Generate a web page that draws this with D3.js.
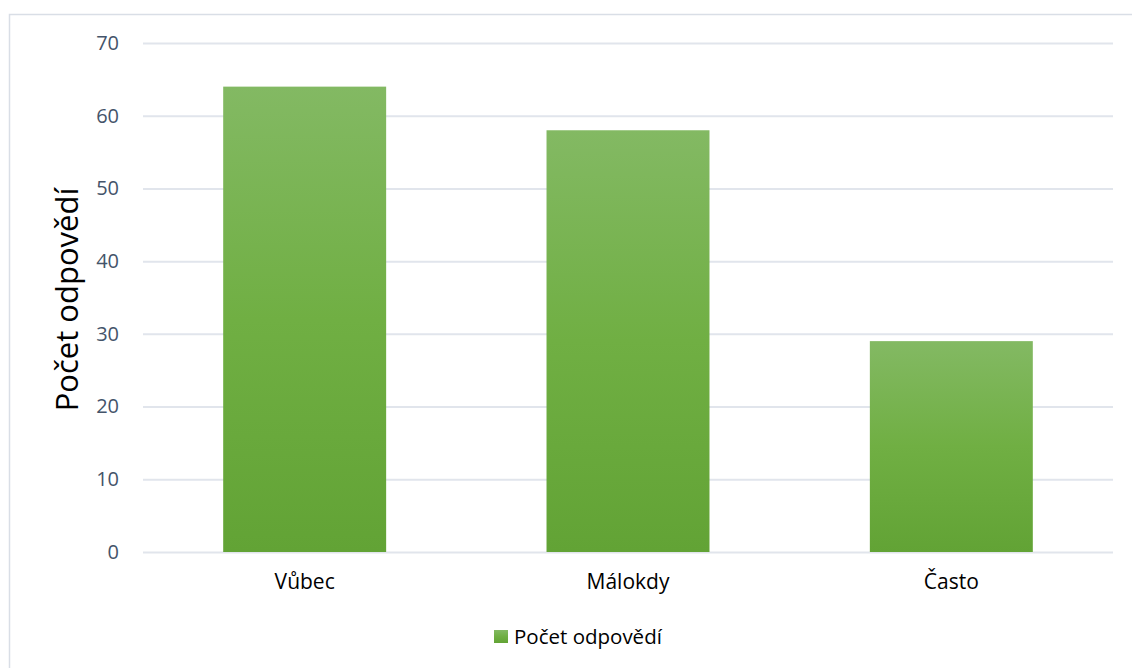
<!DOCTYPE html>
<html><head><meta charset="utf-8">
<script src="https://cdn.jsdelivr.net/npm/d3@7"></script>
<style>
html,body{margin:0;padding:0;background:#fff;}
svg{display:block;}
</style>
</head><body>
<svg id="chart" width="1132" height="668"></svg>
<script>
const categories = ["Vůbec", "Málokdy", "Často"];
const values = [64, 58, 29];
const seriesName = "Počet odpovědí";
const yTicks = [0, 10, 20, 30, 40, 50, 60, 70];
const yTitle = "Počet odpovědí";

const svg = d3.select("#chart");
const plot = {left: 143, right: 1113, top: 43, bottom: 552};

// outer border
svg.append("rect").attr("x", 9.5).attr("y", 14.5).attr("width", 1140).attr("height", 700)
  .attr("fill", "none").attr("stroke", "#D9DEE6").attr("stroke-width", 1.5);

const defs = svg.append("defs");
const grad = defs.append("linearGradient").attr("id", "barGrad")
  .attr("x1", 0).attr("y1", 0).attr("x2", 0).attr("y2", 1);
grad.append("stop").attr("offset", "0%").attr("stop-color", "#83B963");
grad.append("stop").attr("offset", "50%").attr("stop-color", "#70AF43");
grad.append("stop").attr("offset", "100%").attr("stop-color", "#62A335");

const x = d3.scaleBand().domain(categories).range([plot.left, plot.right])
  .paddingInner(0.496).paddingOuter(0.248);
const y = d3.scaleLinear().domain([0, 70]).range([plot.bottom, plot.top]);

// gridlines + tick labels
const yAxis = d3.axisLeft(y).tickValues(yTicks).tickSize(-(plot.right - plot.left)).tickPadding(24);
const gy = svg.append("g").attr("transform", `translate(${plot.left},0)`).call(yAxis);
gy.select(".domain").remove();
gy.selectAll(".tick line").attr("stroke", "#E1E5EC").attr("stroke-width", 2);
gy.selectAll(".tick text").attr("fill", "#44546A").attr("font-family", "'Open Sans', sans-serif")
  .attr("font-size", 20);

// bars
svg.append("g").selectAll("rect").data(values).join("rect")
  .attr("x", (d, i) => x(categories[i]))
  .attr("y", d => y(d))
  .attr("width", x.bandwidth())
  .attr("height", d => y(0) - y(d))
  .attr("fill", "url(#barGrad)");

// x axis labels
const xAxis = d3.axisBottom(x).tickSize(0).tickPadding(22);
const gx = svg.append("g").attr("transform", `translate(0,${plot.bottom})`).call(xAxis);
gx.select(".domain").remove();
gx.selectAll(".tick text").attr("fill", "#000").attr("font-family", "'Open Sans', sans-serif")
  .attr("font-size", 21);

// y title
svg.append("text")
  .attr("transform", `translate(78,${(plot.top + plot.bottom) / 2 + 2}) rotate(-90)`)
  .attr("text-anchor", "middle")
  .attr("font-family", "'Open Sans', sans-serif")
  .attr("font-size", 31)
  .attr("fill", "#000")
  .text(yTitle);

// legend
const lg = svg.append("g").attr("transform", "translate(494,630)");
lg.append("rect").attr("width", 14).attr("height", 13).attr("fill", "url(#barGrad)");
lg.append("text").attr("x", 20).attr("y", 6.5).attr("dy", "0.35em")
  .attr("font-family", "'Open Sans', sans-serif").attr("font-size", 20.5).attr("fill", "#000")
  .text(seriesName);
</script>
</body></html>
